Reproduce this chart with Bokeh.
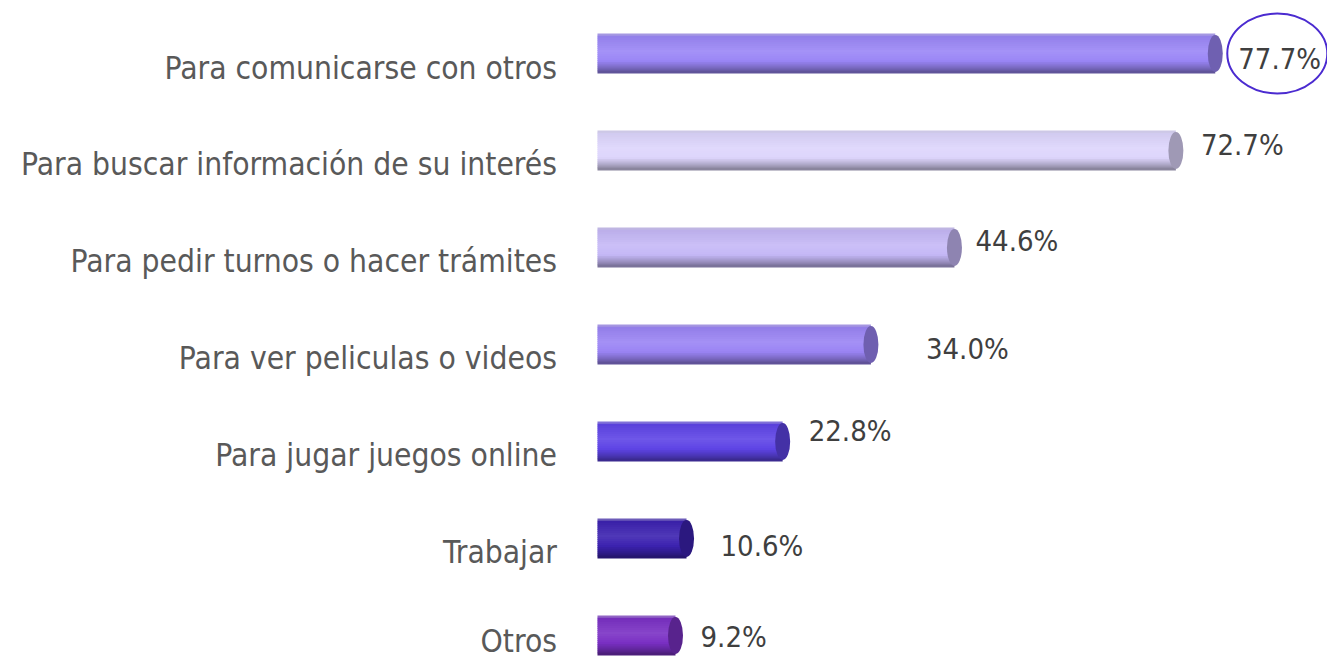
from bokeh.plotting import figure
from bokeh.models import Range1d, ColumnDataSource
from bokeh.embed import file_html
from bokeh.resources import INLINE
from bokeh.core.properties import value

# ---- data ----
categories = [
    "Para comunicarse con otros",
    "Para buscar información de su interés",
    "Para pedir turnos o hacer trámites",
    "Para ver peliculas o videos",
    "Para jugar juegos online",
    "Trabajar",
    "Otros",
]
values = [77.7, 72.7, 44.6, 34.0, 22.8, 10.6, 9.2]
value_labels = ["77.7%", "72.7%", "44.6%", "34.0%", "22.8%", "10.6%", "9.2%"]

# ---- styles ----
bar_colors = ["#9a86f6", "#ddd5fc", "#c5b8f6", "#9a84f4", "#5e44e6", "#3c22b0", "#7a30c4"]
label_dx = [23, 25, 21, 55, 26, 34, 25]     # px from bar end
label_dy = [5, -6, -7, 4, -11, 7, 1]         # px from bar centre
cat_dy = [14, 13, 13, 13, 13, 13, 5]         # px below bar centre

W, H = 1327, 660
X0_PX, XS = 602.5, 7.88      # pixel of value 0, px per unit
Y0_PX, YS = 53.0, 97.0       # pixel of first bar centre, px per row
BAR_PX = 39
BAR_LEFT = -0.7


def hex2rgb(h):
    h = h.lstrip("#")
    return [int(h[i:i + 2], 16) for i in (0, 2, 4)]


def rgb2hex(c):
    return "#%02x%02x%02x" % tuple(max(0, min(255, int(round(v)))) for v in c)


def mix(c, other, a):
    return [c[i] * (1 - a) + other[i] * a for i in range(3)]


def shade(hexc, t):
    base = hex2rgb(hexc)
    white = [255, 255, 255]
    black = [0, 0, 0]
    grey = [190, 188, 205]
    # profile from top (t=0) to bottom (t=1)
    pts = [
        (0.0, mix(base, grey, 0.6)),
        (0.07, mix(base, black, 0.05)),
        (0.45, mix(base, white, 0.10)),
        (0.70, base),
        (0.90, mix(base, black, 0.25)),
        (1.0, mix(base, black, 0.42)),
    ]
    for (t0, c0), (t1, c1) in zip(pts[:-1], pts[1:]):
        if t0 <= t <= t1:
            a = (t - t0) / (t1 - t0)
            return rgb2hex(mix(c0, c1, a))
    return rgb2hex(pts[-1][1])


x_range = Range1d(-X0_PX / XS, (W - X0_PX) / XS)
y_range = Range1d((H - Y0_PX) / YS, -Y0_PX / YS)

p = figure(width=W, height=H, x_range=x_range, y_range=y_range,
           output_backend="svg", toolbar_location=None, min_border=0)
p.axis.visible = False
p.xgrid.visible = False
p.ygrid.visible = False
p.outline_line_color = None
p.background_fill_color = "white"
p.border_fill_color = "white"

# cylinder bodies as stacked strips
N = 19
strip_px = BAR_PX / N
sy, sl, sr, sc = [], [], [], []
for i, (v, col) in enumerate(zip(values, bar_colors)):
    for k in range(N):
        t = (k + 0.5) / N
        sy.append(i + (-BAR_PX / 2 + (k + 0.5) * strip_px) / YS)
        sl.append(BAR_LEFT)
        sr.append(v)
        sc.append(shade(col, t))
strips = ColumnDataSource(dict(y=sy, left=sl, right=sr, color=sc))
p.hbar(y="y", left="left", right="right", height=(strip_px + 0.8) / YS,
       fill_color="color", line_color=None, source=strips)

# end caps
rows = list(range(len(values)))
cap_colors = [rgb2hex(mix(hex2rgb(c), [0, 0, 0], 0.28)) for c in bar_colors]
caps = ColumnDataSource(dict(x=values, y=rows, color=cap_colors))
p.ellipse(x="x", y="y", width=15, height=BAR_PX - 2, width_units="screen",
          height_units="screen", fill_color="color", line_color=None, source=caps)

# category labels
cat_src = ColumnDataSource(dict(x=[0] * len(categories), y=rows, text=categories,
                                dy=cat_dy))
p.text(x="x", y="y", text="text", source=cat_src, x_offset=-46, y_offset="dy",
       text_align="right", text_baseline="middle",
       text_font=value("DejaVu Sans Condensed"), text_font_size="31.5px",
       text_color="#595959")

# value labels
val_src = ColumnDataSource(dict(x=values, y=rows, text=value_labels,
                                dx=label_dx, dy=label_dy))
p.text(x="x", y="y", text="text", source=val_src, x_offset="dx", y_offset="dy",
       text_align="left", text_baseline="middle",
       text_font=value("DejaVu Sans Condensed"), text_font_size="29px",
       text_color="#3f3f3f")

# highlight ring around the top value
ring = ColumnDataSource(dict(x=[values[0] + 62 / XS], y=[rows[0]]))
p.ellipse(x="x", y="y", width=100, height=80, width_units="screen",
          height_units="screen", fill_color=None, line_color="#4b2bd0",
          line_width=2, source=ring)

open("out.html", "w").write(file_html(p, INLINE))
